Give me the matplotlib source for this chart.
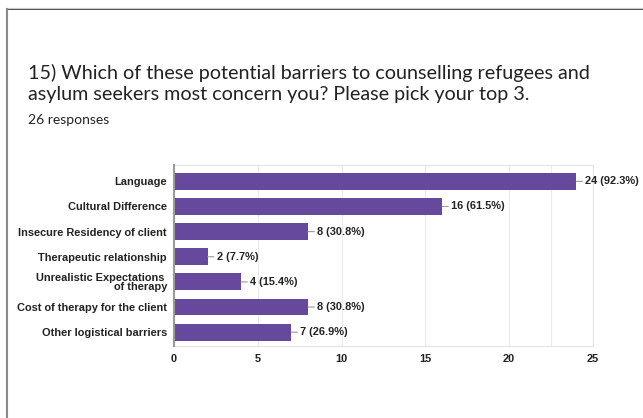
import matplotlib
matplotlib.use("Agg")
import matplotlib.pyplot as plt
from matplotlib.lines import Line2D

categories = ["Language", "Cultural Difference", "Insecure Residency of client",
              "Therapeutic relationship", "Unrealistic Expectations \nof therapy",
              "Cost of therapy for the client", "Other logistical barriers"]
values = [24, 16, 8, 2, 4, 8, 7]
total = 26
xticks = [0, 5, 10, 15, 20, 25]
title = "15) Which of these potential barriers to counselling refugees and\nasylum seekers most concern you? Please pick your top 3."
subtitle = "26 responses"

plt.rcParams['font.family'] = ["Lato", "DejaVu Sans"]
BOLD = ["Liberation Sans", "DejaVu Sans"]

fig = plt.figure(figsize=(6.43, 4.18), dpi=100)
ax = fig.add_axes([174/643, 1-346/418, (593-174)/643, (346-165)/418])

color = "#66489c"
y = list(range(len(categories)))
ax.barh(y, values, height=0.67, color=color, zorder=3)
ax.set_ylim(len(categories)-0.45, -0.65)
ax.set_xlim(0, 25)

LBL = 7.9
for i, v in enumerate(values):
    ax.annotate(f"{v} ({v/total*100:.1f}%)", xy=(v, i), xytext=(9, 0),
                textcoords="offset pixels", va="center", ha="left",
                fontsize=LBL, fontweight="bold", family=BOLD, color="#222222",
                arrowprops=dict(arrowstyle="-", color="#999999", lw=0.8,
                                shrinkA=0, shrinkB=0), zorder=4)

ax.set_yticks(y)
ax.set_yticklabels(categories, fontsize=LBL, fontweight="bold", family=BOLD,
                   color="#222222", linespacing=0.95)
ax.set_xticks(xticks)
ax.set_xticklabels([str(t) for t in xticks], fontsize=LBL, fontweight="bold",
                   family=BOLD, color="#222222")
ax.tick_params(axis="both", length=0)
ax.tick_params(axis="y", pad=5)
ax.tick_params(axis="x", pad=6)

for gx in [5, 10, 15, 20, 22.5]:
    ax.axvline(gx, color="#ebebeb", lw=0.8, zorder=1)

for s in ["top", "right", "bottom"]:
    ax.spines[s].set_color("#e3e3e3")
    ax.spines[s].set_linewidth(0.8)
ax.spines["left"].set_color("#9a9a9a")
ax.spines["left"].set_linewidth(1.5)
ax.spines["left"].set_zorder(5)

fig.text(28/643, 1-100/418, title, fontsize=14.2, color="#222222",
         ha="left", va="baseline", linespacing=1.3)
fig.text(28/643, 1-124/418, subtitle, fontsize=10, color="#222222",
         ha="left", va="baseline")

# frame lines
fig.add_artist(Line2D([6.5/643, 1], [1-9/418, 1-9/418], color="#2a2a2a", lw=1.2))
fig.add_artist(Line2D([6.5/643, 1], [1-7.5/418, 1-7.5/418], color="#cccccc", lw=0.8))
fig.add_artist(Line2D([6.5/643, 6.5/643], [0, 1-9/418], color="#8a8a8a", lw=1.5))

fig.savefig("out.png", dpi=100)
